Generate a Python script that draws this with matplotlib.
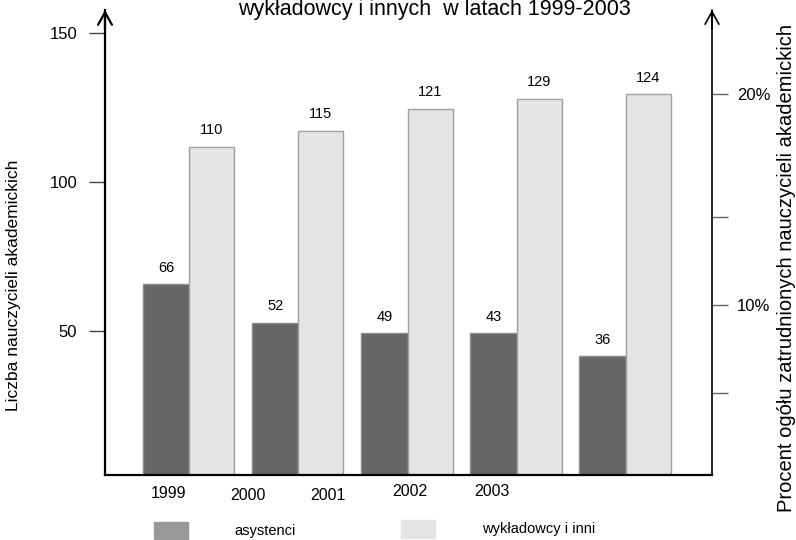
import matplotlib
matplotlib.use("Agg")
import matplotlib.pyplot as plt
from matplotlib.patches import Rectangle

plt.rcParams['font.family'] = ['Liberation Sans', 'DejaVu Sans']

# ---- data ----
years = ["1999", "2000", "2001", "2002", "2003"]
asystenci_heights = [65.6, 52.7, 49.1, 49.1, 41.4]      # bar heights as drawn
asystenci_labels = ["66", "52", "49", "43", "36"]        # printed values
wykladowcy_heights = [111.7, 117.1, 124.4, 127.8, 129.4]
wykladowcy_labels = ["110", "115", "121", "129", "124"]
left_ticks = [50, 100, 150]
right_ticks = [5.81, 10, 14.16, 20]
right_tick_labels = ["", "10%", "", "20%"]

title = "wykładowcy i innych  w latach 1999-2003"
ylabel_left = "Liczba nauczycieli akademickich"
ylabel_right = "Procent ogółu zatrudnionych nauczycieli akademickich"
legend_names = ["asystenci", "wykładowcy i inni"]

# ---- layout ----
W, H = 796, 540
fig = plt.figure(figsize=(W / 100, H / 100), dpi=100)
ax = fig.add_axes([105 / W, 1 - 475 / H, (712 - 105) / W, (475 - 10) / H])

dark_c, dark_e = "#666666", "#8c8c8c"
light_c, light_e = "#e4e4e4", "#a0a0a0"
w_dark, w_light = 0.431, 0.412
off_dark, off_light = -0.206, 0.212

xs = list(range(len(years)))
ax.bar([x + off_dark for x in xs], asystenci_heights, width=w_dark,
       color=dark_c, edgecolor=dark_e, linewidth=1.0, zorder=2)
ax.bar([x + off_light for x in xs], wykladowcy_heights, width=w_light,
       color=light_c, edgecolor=light_e, linewidth=1.0, zorder=2)

for x, h, lab in zip(xs, asystenci_heights, asystenci_labels):
    ax.annotate(lab, (x + off_dark, h), xytext=(0, 12), textcoords="offset points",
                ha="center", va="center", fontsize=10.5)
for x, h, lab in zip(xs, wykladowcy_heights, wykladowcy_labels):
    ax.annotate(lab, (x + off_light, h), xytext=(0, 12), textcoords="offset points",
                ha="center", va="center", fontsize=10.5)

ax.set_xlim(-0.767, 4.796)
ax.set_ylim(1.5, 157.7)
ax.set_xticks([])
ax.set_yticks(left_ticks)
ax.tick_params(axis="y", length=11.5, width=1.0, color="#444444", pad=8.5,
               labelsize=12)
for s in ["top", "right"]:
    ax.spines[s].set_visible(False)
ax.spines["left"].set_linewidth(1.6)
ax.spines["bottom"].set_linewidth(1.6)

ax2 = ax.twinx()
ax2.set_ylim(1.93, 24.0)
ax2.set_yticks(right_ticks)
ax2.set_yticklabels(right_tick_labels)
ax2.tick_params(axis="y", length=11.5, width=1.0, color="#666666", pad=6.5,
                labelsize=12)
for s in ["top", "left", "bottom"]:
    ax2.spines[s].set_visible(False)
ax2.spines["right"].set_linewidth(1.2)

# arrows on top of both axes
for xf, lw in [(0, 1.6), (1, 1.2)]:
    ax.annotate("", xy=(xf, 1.0), xytext=(xf, 0.96), xycoords="axes fraction",
                arrowprops=dict(arrowstyle="->,head_length=0.9,head_width=0.5",
                                lw=lw, color="black", shrinkA=0, shrinkB=0),
                annotation_clip=False)

# year labels (placed as in the reference, not centered under groups)
year_x_px = [168, 248, 328, 410, 492]
year_y_px = [494, 496, 496, 492, 492]
for lab, xp, yp in zip(years, year_x_px, year_y_px):
    fig.text(xp / W, 1 - yp / H, lab, ha="center", va="center", fontsize=11.5)

# title (its upper part is cropped at the top edge, as in the reference)
fig.text(434 / W, 1 - 14.5 / H, title, ha="center", va="baseline", fontsize=15.5)

fig.text(14 / W, 1 - 285 / H, ylabel_left, rotation=90, ha="center",
         va="center", fontsize=12.5)
fig.text(786 / W, 1 - 268 / H, ylabel_right, rotation=90, ha="center",
         va="center", fontsize=14.5)

# legend
fig.patches.append(Rectangle((154 / W, 1 - 539 / H), 34 / W, 17 / H,
                             transform=fig.transFigure, color="#999999"))
fig.patches.append(Rectangle((401 / W, 1 - 538 / H), 34 / W, 18 / H,
                             transform=fig.transFigure, color="#e5e5e5"))
fig.text(234 / W, 1 - 531 / H, legend_names[0], ha="left", va="center", fontsize=10.5)
fig.text(482 / W, 1 - 529 / H, legend_names[1], ha="left", va="center", fontsize=10.5)

fig.savefig("out.png", dpi=100)
